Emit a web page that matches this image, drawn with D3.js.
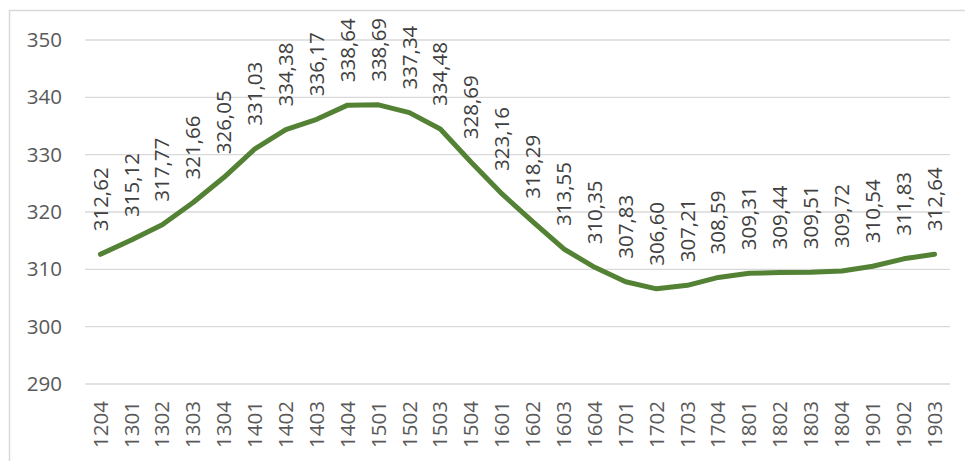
<!DOCTYPE html>
<html><head><meta charset="utf-8">
<script src="https://cdn.jsdelivr.net/npm/d3@7"></script>
<style>html,body{margin:0;padding:0;background:#fff;}svg{display:block;}</style>
</head><body>
<svg id="c" width="965" height="461"></svg>
<script>
const categories = ["1204","1301","1302","1303","1304","1401","1402","1403","1404","1501","1502","1503","1504","1601","1602","1603","1604","1701","1702","1703","1704","1801","1802","1803","1804","1901","1902","1903"];
const values = [312.62,315.12,317.77,321.66,326.05,331.03,334.38,336.17,338.64,338.69,337.34,334.48,328.69,323.16,318.29,313.55,310.35,307.83,306.60,307.21,308.59,309.31,309.44,309.51,309.72,310.54,311.83,312.64];
const yTicks = [290,300,310,320,330,340,350];

(function(){
const svg = d3.select("#c");
const font = "'Open Sans', 'Liberation Sans', sans-serif";
const mLeft = 85, mRight = 950, mTop = 40, mBottom = 384;

svg.append("rect").attr("x",9.5).attr("y",10.5).attr("width",1000).attr("height",1000)
  .attr("fill","none").attr("stroke","#d9d9d9").attr("stroke-width",1.5);

const x = d3.scaleBand().domain(categories).range([mLeft,mRight]);
const y = d3.scaleLinear().domain([290,350]).range([mBottom,mTop]);

const grid = svg.append("g");
grid.selectAll("line").data(yTicks).join("line")
  .attr("x1",mLeft).attr("x2",mRight)
  .attr("y1",d=>y(d)).attr("y2",d=>y(d))
  .attr("stroke","#d9d9d9").attr("stroke-width",1.3);

const yAxis = d3.axisLeft(y).tickValues(yTicks).tickSize(0).tickPadding(0).tickFormat(d3.format("d"));
const ga = svg.append("g").attr("transform","translate(62,0)").call(yAxis);
ga.select(".domain").remove();
ga.selectAll("text").attr("font-family",font).attr("font-size",20.5).attr("fill","#595959");

const xAxis = d3.axisBottom(x).tickSize(0).tickPadding(0);
const gx = svg.append("g").attr("transform","translate(0,401)").call(xAxis);
gx.select(".domain").remove();
gx.selectAll("text").attr("font-family",font).attr("font-size",20.5).attr("fill","#595959")
  .attr("text-anchor","end").attr("dy","0.35em").attr("y",0)
  .attr("transform","rotate(-90)").attr("x",0);

const cx = d => x(d) + x.bandwidth()/2;
const line = d3.line().x((d,i)=>cx(categories[i])).y(d=>y(d));
svg.append("path").datum(values).attr("d",line)
  .attr("fill","none").attr("stroke","#548235").attr("stroke-width",5)
  .attr("stroke-linejoin","round").attr("stroke-linecap","round");

const fmt = v => v.toFixed(2).replace(".",",");
svg.append("g").selectAll("text").data(values).join("text")
  .attr("transform",(d,i)=>`translate(${cx(categories[i])},${y(d)-23}) rotate(-90)`)
  .attr("text-anchor","start").attr("dy","0.35em")
  .attr("font-family",font).attr("font-size",20.5).attr("fill","#404040")
  .text(fmt);
})();
</script>
</body></html>
